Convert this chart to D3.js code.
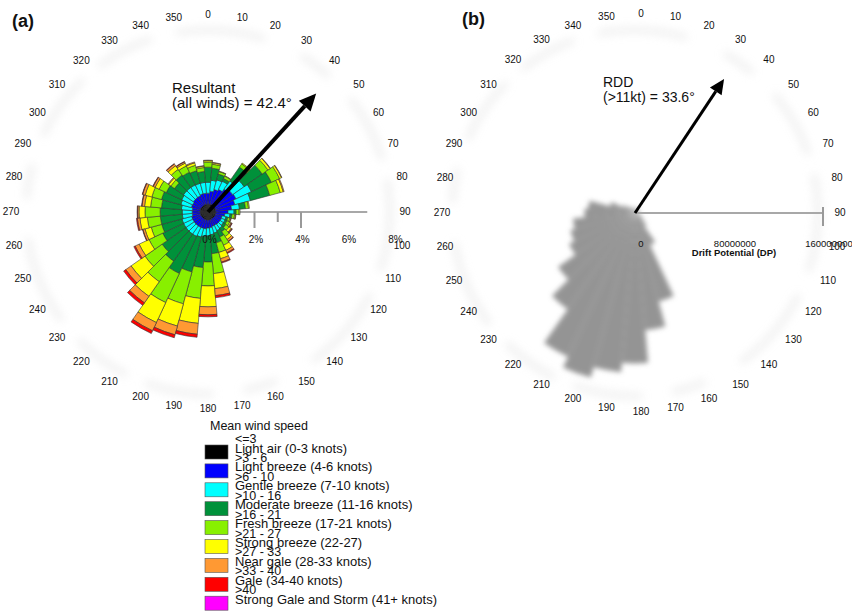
<!DOCTYPE html>
<html><head><meta charset="utf-8">
<script src="https://cdn.jsdelivr.net/npm/d3@7"></script>
<style>
body{margin:0;background:#fff;}
text{font-family:Arial,"Liberation Sans",Helvetica,sans-serif;fill:#111;}
</style></head><body>
<svg id="c" width="852" height="612"></svg>
<script>
// ---------- DATA ----------
const windDirs = [0,10,20,30,40,50,60,70,80,90,100,110,120,130,140,150,160,170,180,190,200,210,220,230,240,250,260,270,280,290,300,310,320,330,340,350];
const dirLabels = ["0","10","20","30","40","50","60","70","80","90","100","110","120","130","140","150","160","170","180","190","200","210","220","230","240","250","260","270","280","290","300","310","320","330","340","350"];
const speedRanges = ["<=3",">3 - 6",">6 - 10",">10 - 16",">16 - 21",">21 - 27",">27 - 33",">33 - 40",">40"];
const speedNames = ["Light air (0-3 knots)","Light breeze (4-6 knots)","Gentle breeze (7-10 knots)","Moderate breeze (11-16 knots)","Fresh breeze (17-21 knots)","Strong breeze (22-27)","Near gale (28-33 knots)","Gale (34-40 knots)","Strong Gale and Storm (41+ knots)"];
const speedColors = ["#000000","#0000ff","#00ffff","#00913a","#88f000","#ffff00","#ff9933","#ff0000","#ff00ff"];
// frequency (%) by direction for each speed class
const lightAir      = [0.34,0.34,0.35,0.34,0.34,0.35,0.34,0.34,0.33,0.34,0.34,0.33,0.34,0.34,0.34,0.33,0.34,0.34,0.35,0.34,0.34,0.34,0.34,0.34,0.34,0.34,0.34,0.34,0.34,0.35,0.34,0.34,0.34,0.34,0.34,0.34];
const lightBreeze   = [0.47,0.56,0.65,0.73,0.86,0.95,0.99,0.86,0.69,0.52,0.39,0.30,0.30,0.30,0.30,0.30,0.30,0.34,0.34,0.39,0.39,0.39,0.39,0.39,0.39,0.39,0.34,0.34,0.34,0.39,0.39,0.43,0.43,0.43,0.47,0.47];
const gentleBreeze  = [0.47,0.47,0.43,0.39,0.43,0.60,0.73,0.69,0.34,0.26,0.22,0.17,0.17,0.17,0.22,0.26,0.30,0.30,0.34,0.34,0.39,0.43,0.43,0.43,0.43,0.43,0.43,0.43,0.47,0.47,0.52,0.52,0.52,0.52,0.47,0.47];
const moderateBreeze= [0.65,0.52,0.26,0.13,0.73,0.95,0.95,0.86,0.26,0.09,0.09,0.09,0.09,0.13,0.17,0.30,0.43,0.82,1.12,1.33,1.55,1.76,1.42,1.25,0.99,0.90,0.95,0.95,0.86,0.86,0.73,0.47,0.65,0.60,0.56,0.47];
const freshBreeze   = [0.22,0.17,0.11,0.11,0.17,0.30,0.39,0.47,0.13,0.13,0.11,0.09,0.13,0.17,0.26,0.39,0.43,0.86,1.03,1.33,1.42,1.38,1.08,0.90,0.65,0.47,0.56,0.65,0.47,0.43,0.34,0.19,0.30,0.30,0.24,0.17];
const strongBreeze  = [0.06,0.06,0.02,0.02,0.04,0.11,0.09,0.13,0.04,0.04,0.04,0.04,0.06,0.11,0.15,0.24,0.28,0.65,0.90,1.08,0.99,0.95,0.77,0.73,0.47,0.28,0.32,0.26,0.26,0.30,0.19,0.11,0.19,0.13,0.11,0.06];
const nearGale      = [0.02,0.02,0,0,0,0.02,0.02,0.04,0,0,0.02,0.02,0.04,0.04,0.09,0.11,0.15,0.30,0.34,0.47,0.39,0.39,0.34,0.28,0.19,0.09,0.11,0.06,0.11,0.11,0.09,0.04,0.09,0.06,0.04,0.02];
const gale          = [0,0,0,0,0,0,0,0,0,0,0,0,0.02,0.02,0.02,0.04,0.04,0.09,0.09,0.13,0.13,0.13,0.13,0.11,0.06,0.02,0.04,0.02,0.02,0.02,0.02,0,0.02,0.02,0,0];
const strongGale    = [0,0,0,0,0,0,0,0,0,0,0,0,0,0,0,0,0,0,0,0,0,0,0,0,0,0,0,0,0,0,0,0,0,0,0,0];
const pctTicks = [0,2,4,6,8];
const pctTickMarks = [2,3,4];
const resultantDir = 42.4, resultantLen = 6.9;
// drift potential by direction (DP units)
const driftPotential = [3.4e6,3.4e6,4.3e6,5.1e6,5.1e6,4.3e6,3.4e6,2.6e6,2.6e6,2.6e6,3.4e6,4.3e6,6e6,9e6,14e6,30e6,78e6,100e6,128e6,136e6,145e6,135e6,100e6,80e6,62e6,57e6,53e6,43e6,40e6,22e6,12e6,8e6,6e6,5.1e6,4.3e6,3.4e6];
const dpTicks = [0,80000000,160000000];
const rddDir = 33.6, rddMag = 137000000;

// ---------- DRAW ----------
const svg = d3.select("#c");
const defs = svg.append("defs");
defs.append("filter").attr("id","blurRing").attr("x","-30%").attr("y","-30%").attr("width","160%").attr("height","160%")
  .append("feGaussianBlur").attr("stdDeviation",5);
defs.append("filter").attr("id","blurRose").attr("x","-30%").attr("y","-30%").attr("width","160%").attr("height","160%")
  .append("feGaussianBlur").attr("stdDeviation",2.4);
const rad = d => d*Math.PI/180;

function dirLabelsAt(cx, cy, R){
  const g = svg.append("g").attr("transform",`translate(${cx},${cy})`);
  g.selectAll("text").data(windDirs).join("text")
    .attr("x", d=>R*Math.sin(rad(d))).attr("y", d=>-R*Math.cos(rad(d)))
    .attr("dy","0.35em").attr("text-anchor","middle").attr("font-size",10)
    .text((d,i)=>dirLabels[i]);
}
function ring(g, r){
  g.append("circle").attr("r",r).attr("fill","none").attr("stroke","#dcdcdc").attr("stroke-width",5)
    .attr("stroke-dasharray","60 25 90 40 35 30 70 20").attr("opacity",0.55).attr("filter","url(#blurRing)");
}
function arrow(g, angleDeg, len, w, head, hw){
  const a = rad(angleDeg), ux = Math.sin(a), uy = -Math.cos(a), px = -uy, py = ux;
  const bx = ux*(len-head), by = uy*(len-head);
  g.append("line").attr("x1",0).attr("y1",0).attr("x2",bx).attr("y2",by).attr("stroke","#000").attr("stroke-width",w);
  g.append("path").attr("d",`M${ux*len},${uy*len}L${bx+px*hw},${by+py*hw}L${bx-px*hw},${by-py*hw}Z`).attr("fill","#000");
}

// Panel (a)
const A = {cx:208, cy:212};
const gA = svg.append("g").attr("transform",`translate(${A.cx},${A.cy})`);
const rA = d3.scaleLinear().domain([0,8]).range([0,186]);
ring(gA, 182);
gA.append("line").attr("x1",0).attr("x2",rA(6.85)).attr("y1",0).attr("y2",0).attr("stroke","#a8a8a8").attr("stroke-width",2);
gA.selectAll(".tk").data(pctTickMarks).join("line")
  .attr("x1",d=>rA(d)).attr("x2",d=>rA(d)).attr("y1",0).attr("y2",d=>d%2===0?16:10)
  .attr("stroke","#999").attr("stroke-width",2);

const series = [lightAir,lightBreeze,gentleBreeze,moderateBreeze,freshBreeze,strongBreeze,nearGale,gale,strongGale];
const keys = series.map((s,k)=>"k"+k);
const rows = windDirs.map((d,i)=>{const o={dir:d}; series.forEach((s,k)=>o["k"+k]=s[i]); return o;});
const stacked = d3.stack().keys(keys)(rows);
const arcGen = d3.arc();
stacked.forEach((layer,k)=>{
  gA.append("g").selectAll("path").data(layer.filter(d=>d[1]-d[0]>0)).join("path")
    .attr("d", d=>arcGen({innerRadius:rA(d[0]), outerRadius:rA(d[1]), startAngle:rad(d.data.dir-5), endAngle:rad(d.data.dir+5)}))
    .attr("fill", speedColors[k]).attr("stroke","#333").attr("stroke-width",0.6);
});
gA.selectAll(".pl").data(pctTicks).join("text")
  .attr("x",d=>rA(d)+1.5).attr("y",31).attr("text-anchor","middle").attr("font-size",10)
  .text(d=>d+"%");
arrow(gA, resultantDir, rA(resultantLen), 4, 17, 8);
dirLabelsAt(208, 211, 197);
svg.append("text").attr("x",12).attr("y",27).attr("font-size",18).attr("font-weight","bold").text("(a)");
svg.append("text").attr("x",172).attr("y",93).attr("font-size",15).text("Resultant");
svg.append("text").attr("x",172).attr("y",108).attr("font-size",15).text("(all winds) = " + resultantDir + "°");

// Panel (b)
const B = {cx:635, cy:213};
const gB = svg.append("g").attr("transform",`translate(${B.cx},${B.cy})`);
const rB = d3.scaleLinear().domain([0,160000000]).range([0,188]);
ring(gB, 183);
gB.append("g").attr("filter","url(#blurRose)").selectAll("path").data(windDirs).join("path")
  .attr("d",(d,i)=>arcGen({innerRadius:0, outerRadius:rB(driftPotential[i]), startAngle:rad(d-5), endAngle:rad(d+5)}))
  .attr("fill","#949494");
gB.append("line").attr("x1",0).attr("x2",rB(160000000)).attr("y1",0).attr("y2",0).attr("stroke","#a8a8a8").attr("stroke-width",2);
gB.append("line").attr("x1",rB(160000000)).attr("x2",rB(160000000)).attr("y1",-6).attr("y2",13).attr("stroke","#999").attr("stroke-width",2);
gB.selectAll(".dl").data(dpTicks).join("text")
  .attr("x",d=>rB(d)+6).attr("y",34).attr("text-anchor","middle").attr("font-size",9.5)
  .text(d=>d);
gB.append("text").attr("x",rB(80000000)+5).attr("y",43).attr("text-anchor","middle").attr("font-size",9.5).attr("font-weight","bold").text("Drift Potential (DP)");
arrow(gB, rddDir, rB(rddMag), 3, 15, 7);
dirLabelsAt(641, 212, 199);
svg.append("text").attr("x",462).attr("y",25).attr("font-size",18).attr("font-weight","bold").text("(b)");
svg.append("text").attr("x",603).attr("y",87).attr("font-size",14).text("RDD");
svg.append("text").attr("x",603).attr("y",102).attr("font-size",14).text("(>11kt) = " + rddDir + "°");

// Legend
const lg = svg.append("g");
lg.append("text").attr("x",210).attr("y",430).attr("font-size",12.5).text("Mean wind speed");
const items = lg.selectAll(".it").data(speedNames).join("g").attr("transform",(d,i)=>`translate(205,${445+i*18.9})`);
items.append("rect").attr("width",23).attr("height",14).attr("fill",(d,i)=>speedColors[i]).attr("stroke","#555").attr("stroke-width",0.6);
items.append("text").attr("x",30).attr("y",-2).attr("font-size",12.5).text((d,i)=>speedRanges[i]);
items.append("text").attr("x",30).attr("y",7.5).attr("font-size",13).text(d=>d);
</script>
</body></html>
